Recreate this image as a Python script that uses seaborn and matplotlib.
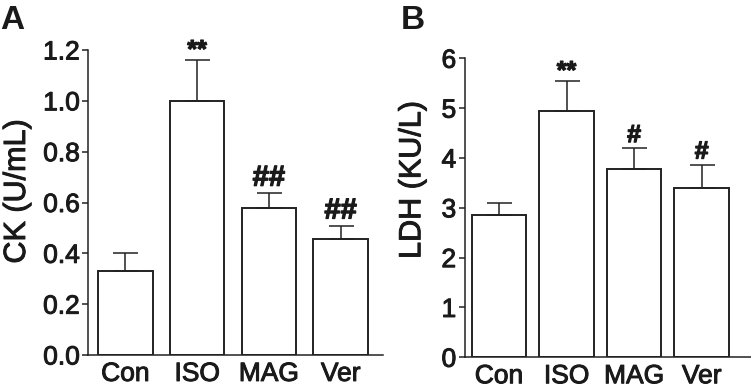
import seaborn as sns
import pandas as pd
import matplotlib
matplotlib.use('Agg')
from matplotlib import pyplot as plt
from matplotlib import patheffects as pe

groups = ['Con', 'ISO', 'MAG', 'Ver']

ck_mean = [0.332, 1.00, 0.578, 0.458]
ck_sem = [0.071, 0.16, 0.059, 0.050]
ck_marks = ['', '**', '##', '##']

ldh_mean = [2.86, 4.94, 3.78, 3.40]
ldh_sem = [0.23, 0.60, 0.41, 0.46]
ldh_marks = ['', '**', '#', '#']

sns.set_style('ticks')
plt.rcParams['font.family'] = ['Liberation Sans', 'DejaVu Sans']
plt.rcParams['axes.linewidth'] = 1.1
edge = '#222222'
ink = '#1a1a1a'
heavy = [pe.withStroke(linewidth=0.7, foreground=ink)]


def draw_panel(ax, means, sems, marks, ylabel, ylim, yticks, fmt, width, sizes):
    df = pd.DataFrame({'group': groups, 'value': means})
    sns.barplot(
        data=df,
        x='group',
        y='value',
        order=groups,
        color='white',
        edgecolor=edge,
        linewidth=1.4,
        width=width,
        errorbar=None,
        ax=ax,
    )
    for patch in ax.patches:
        patch.set_facecolor('white')
    xs = range(len(groups))
    ax.errorbar(
        xs, means,
        yerr=[[0] * len(sems), sems],
        fmt='none',
        ecolor=edge,
        elinewidth=1.1,
        capsize=9,
        capthick=1.1,
    )
    for x, m, s, t in zip(xs, means, sems, marks):
        if t:
            ax.annotate(
                t, (x, m + s),
                xytext=(0, -1.5 if '*' in t else 1), textcoords='offset points',
                ha='center', va='bottom',
                fontsize=sizes[t[0]], fontweight='bold', color=ink,
                path_effects=[pe.withStroke(linewidth=0.9, foreground=ink)],
            )
    ax.set_ylim(*ylim)
    ax.set_yticks(yticks)
    ax.set_yticklabels([fmt.format(v) for v in yticks])
    ax.set_xlabel('')
    ax.set_ylabel(ylabel, fontsize=22, color=ink, path_effects=heavy)
    ax.tick_params(axis='y', direction='out', length=4, width=1.1, pad=2,
                   labelsize=19, colors=edge)
    ax.tick_params(axis='x', length=0, pad=5, labelsize=19, colors=edge)
    for lab in ax.get_yticklabels() + ax.get_xticklabels():
        lab.set_color(ink)
        lab.set_path_effects(heavy)
    sns.despine(ax=ax)
    ax.spines['left'].set_color(edge)
    ax.spines['bottom'].set_color(edge)


fig = plt.figure(figsize=(7.51, 3.89), dpi=100)
ax_a = fig.add_axes([88 / 751, 1 - 355 / 389, 295 / 751, 305 / 389])
ax_b = fig.add_axes([464.5 / 751, 1 - 357.3 / 389, 286.5 / 751, 299 / 389])

draw_panel(ax_a, ck_mean, ck_sem, ck_marks, 'CK (U/mL)', (0, 1.2),
           [0.0, 0.2, 0.4, 0.6, 0.8, 1.0, 1.2], '{:.1f}', 0.76,
           {'*': 18, '#': 21})
ax_a.set_xlim(-0.52, 3.59)
ax_a.yaxis.set_label_coords(-0.19, 0.536)

draw_panel(ax_b, ldh_mean, ldh_sem, ldh_marks, 'LDH (KU/L)', (0, 6),
           [0, 1, 2, 3, 4, 5, 6], '{:.0f}', 0.81,
           {'*': 18, '#': 18})
ax_b.set_xlim(-0.51, 3.73)
ax_b.yaxis.set_label_coords(-0.13, 0.593)

fig.text(0.0, 1 - 5 / 389, 'A', fontsize=24, fontweight='bold', va='top', ha='left', color=ink)
fig.text(401 / 751, 1 - 5 / 389, 'B', fontsize=24, fontweight='bold', va='top', ha='left', color=ink)

fig.savefig('out.png', dpi=100)
